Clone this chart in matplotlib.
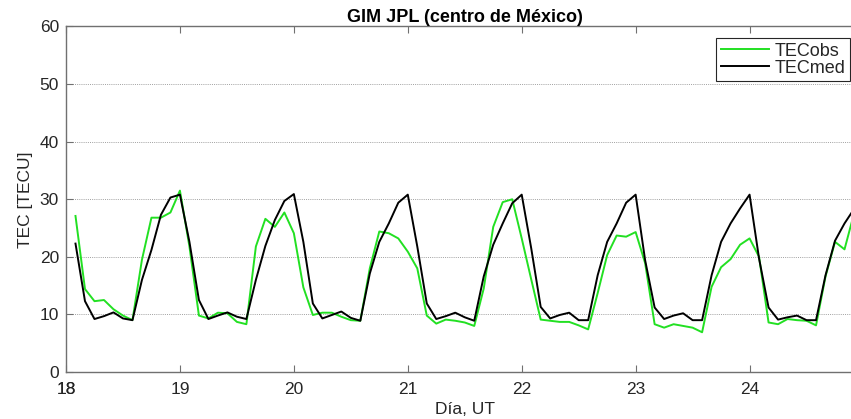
import numpy as np
import matplotlib
matplotlib.use("Agg")
import matplotlib.pyplot as plt

plt.rcParams['font.family'] = ['Liberation Sans', 'DejaVu Sans']

# 2-hourly samples, starting at day 18 + 2 h
step_h = 2
first_day = 18

tec_med = [22.3, 12.3, 9.2, 9.7, 10.35, 9.3, 9.0, 16.0, 21.2, 27.3, 30.3, 30.8,
           22.6, 12.5, 9.2, 9.8, 10.35, 9.6, 9.2, 16.0, 21.9, 26.4, 29.7, 30.9,
           22.6, 11.9, 9.3, 9.9, 10.5, 9.4, 8.9, 17.1, 22.6, 25.8, 29.4, 30.8,
           21.8, 11.9, 9.2, 9.7, 10.3, 9.5, 8.9, 16.6, 22.1, 25.8, 29.3, 30.8,
           21.5, 11.3, 9.3, 9.9, 10.3, 9.0, 9.0, 16.8, 22.6, 25.8, 29.4, 30.8,
           19.4, 11.2, 9.2, 9.8, 10.2, 9.0, 9.0, 16.8, 22.6, 25.8, 28.4, 30.8,
           19.7, 11.2, 9.1, 9.5, 9.8, 9.0, 9.0, 16.8, 22.8, 25.8, 28.3]

tec_obs = [27.1, 14.4, 12.3, 12.5, 10.9, 9.8, 9.0, 19.5, 26.8, 26.8, 27.7, 31.5,
           21.8, 9.8, 9.3, 10.3, 10.2, 8.7, 8.3, 21.8, 26.6, 25.2, 27.7, 24.1,
           14.7, 9.9, 10.3, 10.3, 9.6, 9.0, 8.9, 18.0, 24.4, 24.1, 23.2, 20.9,
           18.0, 9.8, 8.4, 9.1, 8.9, 8.6, 8.0, 14.5, 25.2, 29.5, 30.0, 23.2,
           16.1, 9.1, 8.9, 8.7, 8.7, 8.1, 7.4, 13.7, 20.3, 23.7, 23.5, 24.3,
           18.9, 8.3, 7.7, 8.3, 8.0, 7.7, 6.9, 14.8, 18.2, 19.6, 22.1, 23.2,
           20.0, 8.6, 8.3, 9.2, 9.0, 8.9, 8.1, 16.6, 22.6, 21.3, 27.5]

day_ticks = [18, 19, 20, 21, 22, 23, 24]
y_ticks = [0, 10, 20, 30, 40, 50, 60]

t = first_day + step_h / 24 * np.arange(1, len(tec_med) + 1)

txt = '#262626'
axc = '#707070'

fig = plt.figure(figsize=(8.51, 4.19), dpi=100)
W, H = 851, 419
ax = fig.add_axes([66 / W, 47 / H, 797.5 / W, 345.5 / H])

ax.plot(t, tec_obs, color='#22e022', lw=1.4, label='TECobs')
ax.plot(t, tec_med, color='black', lw=1.4, label='TECmed')

ax.set_xlim(first_day + step_h / 24, 25)
ax.set_ylim(0, 60)
ax.set_xticks(day_ticks)
ax.set_yticks(y_ticks)
ax.tick_params(axis='both', direction='in', length=5, width=0.8, color=axc,
               labelcolor=txt, labelsize=12.5, top=True, right=True)
ax.tick_params(axis='x', pad=7)
ax.tick_params(axis='y', pad=5)
for sp in ax.spines.values():
    sp.set_color(axc)
    sp.set_linewidth(1.0)

ax.yaxis.grid(True, color='#a0a0a0', linestyle=(0, (1, 1.2)), lw=0.7)
ax.set_axisbelow(True)

# first day label sits left of the clipped axis start
ax.annotate(str(day_ticks[0]), xy=(day_ticks[0], 0),
            xycoords=('data', 'axes fraction'), xytext=(0, -7),
            textcoords='offset points', ha='center', va='top',
            fontsize=12.5, color=txt, annotation_clip=False)

ax.set_title('GIM JPL (centro de México)', fontsize=13, fontweight='bold',
             color='black', pad=3.5)
ax.set_ylabel('TEC [TECU]', fontsize=12.5, color=txt, labelpad=5)
ax.set_xlabel('Día, UT', fontsize=12.5, color=txt, labelpad=4)

leg = ax.legend(loc='upper left', bbox_to_anchor=(716 / W, 1 - 38 / H),
                bbox_transform=fig.transFigure, borderaxespad=0,
                fontsize=13, handlelength=2.7, handletextpad=0.3,
                labelspacing=0.0, borderpad=0.25, fancybox=False,
                framealpha=1, edgecolor='#262626')
leg.get_frame().set_linewidth(0.8)
for tx in leg.get_texts():
    tx.set_color(txt)

fig.savefig('out.png', dpi=100)
